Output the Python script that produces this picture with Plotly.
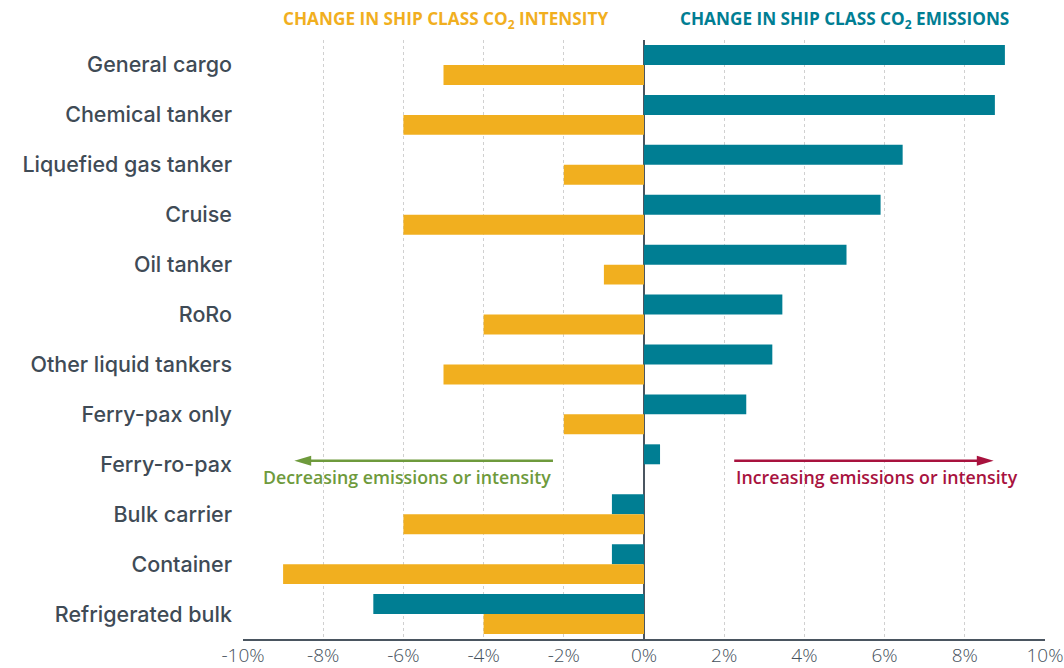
import plotly.graph_objects as go

categories = ["General cargo", "Chemical tanker", "Liquefied gas tanker", "Cruise",
              "Oil tanker", "RoRo", "Other liquid tankers", "Ferry-pax only",
              "Ferry-ro-pax", "Bulk carrier", "Container", "Refrigerated bulk"]
emissions_change = [9.0, 8.75, 6.45, 5.9, 5.05, 3.45, 3.2, 2.55, 0.4, -0.8, -0.8, -6.75]
intensity_change = [-5.0, -6.0, -2.0, -6.0, -1.0, -4.0, -5.0, -2.0, 0.0, -6.0, -9.0, -4.0]
tick_vals = [-10, -8, -6, -4, -2, 0, 2, 4, 6, 8, 10]
tick_text = ["-10%", "-8%", "-6%", "-4%", "-2%", "0%", "2%", "4%", "6%", "8%", "10%"]

TEAL = "#007e93"
YELLOW = "#f1af1f"
GREEN = "#6e9a3c"
CRIMSON = "#a8123e"
DARK = "#3f4b56"
FONT = "Open Sans"
LABEL_FONT = "Inter"

fig = go.Figure()
fig.add_trace(go.Bar(y=categories, x=emissions_change, orientation="h",
                     marker=dict(color=TEAL, line=dict(width=0)), name="Emissions"))
fig.add_trace(go.Bar(y=categories, x=intensity_change, orientation="h",
                     marker=dict(color=YELLOW, line=dict(width=0)), name="Intensity"))

fig.update_layout(
    width=1064, height=668,
    margin=dict(l=243, r=19, t=40, b=29, autoexpand=False),
    plot_bgcolor="white", paper_bgcolor="white",
    barmode="group", bargap=0.2, bargroupgap=0,
    showlegend=False,
    font=dict(family=FONT, color=DARK),
    xaxis=dict(range=[-10, 10], tickvals=tick_vals, ticktext=tick_text, automargin=False,
               showgrid=True, gridcolor="#d0d0d0", griddash="dot", gridwidth=1,
               zeroline=True, zerolinecolor="#4a5560", zerolinewidth=2,
               showline=True, linecolor="#4a5560", linewidth=2,
               ticks="", ticklabelstandoff=-2, ticklabeloverflow="allow",
               tickfont=dict(size=19, color="#46515c", family=FONT, weight=300)),
    yaxis=dict(autorange="reversed", showgrid=False, ticks="", ticklabelstandoff=10,
               automargin=False,
               tickfont=dict(size=21.5, color=DARK, family=LABEL_FONT, weight=500)),
)

fig.add_annotation(x=(445 - 243) / 802, y=1, yref="paper", xref="paper", yshift=20,
                   text="CHANGE IN SHIP CLASS CO<sub>2</sub> INTENSITY", showarrow=False,
                   font=dict(size=17.2, color=YELLOW, family=FONT, weight=700), xanchor="center", yanchor="middle")
fig.add_annotation(x=(844 - 243) / 802, y=1, yref="paper", xref="paper", yshift=20,
                   text="CHANGE IN SHIP CLASS CO<sub>2</sub> EMISSIONS", showarrow=False,
                   font=dict(size=17.2, color=TEAL, family=FONT, weight=700), xanchor="center", yanchor="middle")

# direction arrows (lines + triangular heads)
ay = 7.93
fig.add_shape(type="line", xref="x", yref="y", x0=-2.27, x1=-8.4, y0=ay, y1=ay,
              line=dict(color=GREEN, width=2.5))
fig.add_shape(type="path", xref="x", yref="y", fillcolor=GREEN, line=dict(width=0),
              path=f"M -8.72 {ay} L -8.3 {ay-0.1} L -8.3 {ay+0.1} Z")
fig.add_shape(type="line", xref="x", yref="y", x0=2.25, x1=8.4, y0=ay, y1=ay,
              line=dict(color=CRIMSON, width=2.5))
fig.add_shape(type="path", xref="x", yref="y", fillcolor=CRIMSON, line=dict(width=0),
              path=f"M 8.72 {ay} L 8.3 {ay-0.1} L 8.3 {ay+0.1} Z")

fig.add_annotation(x=-2.27, y=8.25, xref="x", yref="y", text="Decreasing emissions or intensity",
                   showarrow=False, xanchor="right", yanchor="middle",
                   font=dict(size=17.8, color=GREEN, family=FONT, weight=600))
fig.add_annotation(x=2.25, y=8.25, xref="x", yref="y", text="Increasing emissions or intensity",
                   showarrow=False, xanchor="left", yanchor="middle",
                   font=dict(size=17.8, color=CRIMSON, family=FONT, weight=600))

fig.write_html("out.html", config={"displayModeBar": False},
               post_script="document.body.style.margin='0px';")
